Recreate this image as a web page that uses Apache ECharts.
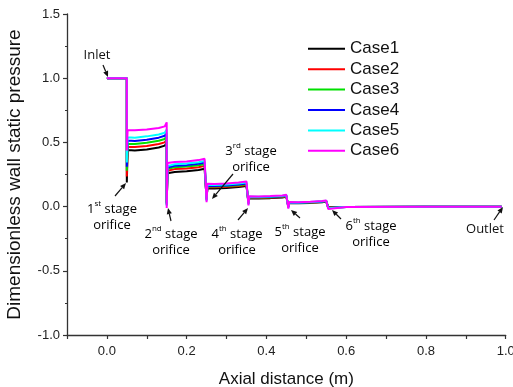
<!DOCTYPE html>
<html>
<head>
<meta charset="utf-8">
<script src="https://cdn.jsdelivr.net/npm/echarts@6/dist/echarts.min.js"></script>
<style>html,body{margin:0;padding:0;background:#fff}#c{width:513px;height:387px}</style>
</head>
<body>
<div id="c"></div>
<script>
// Axial positions (m) shared by all cases (repeated x = vertical drop at an orifice)
const xs = [0, 0.05, 0.05,
  0.052, 0.07, 0.10, 0.13, 0.145, 0.15, 0.15,
  0.152, 0.17, 0.20, 0.23, 0.245, 0.25, 0.25,
  0.252, 0.27, 0.30, 0.33, 0.35, 0.355, 0.355,
  0.357, 0.38, 0.41, 0.44, 0.45, 0.455, 0.455,
  0.457, 0.48, 0.51, 0.54, 0.55, 0.555, 0.555,
  0.557, 0.60, 0.80, 0.99];

const caseNames = ['Case1', 'Case2', 'Case3', 'Case4', 'Case5', 'Case6'];

const case1 = [1.0, 1.0, 0.187,
  0.440, 0.437, 0.445, 0.460, 0.475, 0.495, 0.030,
  0.260, 0.270, 0.275, 0.285, 0.295, 0.310, 0.065,
  0.143, 0.141, 0.145, 0.152, 0.160, 0.170, 0.034,
  0.064, 0.063, 0.066, 0.071, 0.076, 0.084, 0.004,
  0.027, 0.026, 0.029, 0.034, 0.039, 0.045, -0.004,
  -0.003, -0.003, -0.002, -0.001];
const case2 = [1.0, 1.0, 0.234,
  0.467, 0.464, 0.472, 0.488, 0.500, 0.522, 0.024,
  0.280, 0.292, 0.297, 0.307, 0.317, 0.330, 0.060,
  0.152, 0.150, 0.154, 0.161, 0.169, 0.178, 0.030,
  0.068, 0.067, 0.070, 0.075, 0.080, 0.087, 0.001,
  0.029, 0.028, 0.031, 0.036, 0.041, 0.047, -0.006,
  -0.003, -0.003, -0.002, -0.001];
const case3 = [1.0, 1.0, 0.280,
  0.490, 0.487, 0.497, 0.513, 0.527, 0.550, 0.018,
  0.295, 0.307, 0.312, 0.322, 0.332, 0.345, 0.055,
  0.158, 0.156, 0.160, 0.167, 0.175, 0.185, 0.026,
  0.071, 0.070, 0.073, 0.078, 0.083, 0.090, -0.002,
  0.030, 0.029, 0.032, 0.038, 0.043, 0.049, -0.008,
  -0.003, -0.003, -0.002, -0.001];
const case4 = [1.0, 1.0, 0.310,
  0.514, 0.511, 0.520, 0.537, 0.552, 0.575, 0.012,
  0.305, 0.318, 0.323, 0.333, 0.343, 0.355, 0.050,
  0.163, 0.161, 0.165, 0.172, 0.180, 0.190, 0.022,
  0.074, 0.073, 0.076, 0.081, 0.086, 0.093, -0.005,
  0.031, 0.030, 0.033, 0.039, 0.044, 0.051, -0.010,
  -0.003, -0.003, -0.002, -0.001];
const case5 = [1.0, 1.0, 0.343,
  0.540, 0.537, 0.547, 0.562, 0.575, 0.600, 0.005,
  0.315, 0.330, 0.335, 0.345, 0.355, 0.370, 0.045,
  0.170, 0.168, 0.172, 0.180, 0.188, 0.196, 0.018,
  0.077, 0.076, 0.079, 0.084, 0.089, 0.096, -0.008,
  0.033, 0.032, 0.035, 0.041, 0.046, 0.053, -0.012,
  -0.003, -0.003, -0.002, -0.001];
const case6 = [1.0, 1.0, 0.436,
  0.597, 0.594, 0.600, 0.612, 0.625, 0.656, -0.010,
  0.340, 0.347, 0.352, 0.362, 0.372, 0.385, 0.035,
  0.178, 0.176, 0.180, 0.188, 0.196, 0.205, 0.010,
  0.080, 0.079, 0.082, 0.087, 0.092, 0.100, -0.015,
  0.035, 0.034, 0.037, 0.043, 0.048, 0.056, -0.018,
  -0.003, -0.003, -0.002, -0.001];

const caseValues = [case1, case2, case3, case4, case5, case6];
const caseColors = ['#000000', '#ff0000', '#00e000', '#0000ff', '#00ffff', '#ff00ff'];

const xTickLabels = ['0.0', '0.2', '0.4', '0.6', '0.8', '1.0'];
const yTickLabels = ['-1.0', '-0.5', '0.0', '0.5', '1.0', '1.5'];

const chart = echarts.init(document.getElementById('c'), null, {renderer: 'canvas'});

const series = caseNames.map((n, i) => ({
  name: n,
  type: 'line',
  symbol: 'none',
  showSymbol: false,
  smooth: false,
  color: caseColors[i],
  lineStyle: {width: 2, color: caseColors[i]},
  data: xs.map((x, k) => [x, caseValues[i][k]]),
  z: 2 + i
}));

const annFont = '"Open Sans", "Noto Sans", sans-serif';
const rich = {
  a: {fontSize: 13, fontFamily: annFont, color: '#111', lineHeight: 16, verticalAlign: 'bottom'},
  s: {fontSize: 8, fontFamily: annFont, color: '#111', lineHeight: 16, verticalAlign: 'top'}
};
function label(x, y, num, sup) {
  const t = '{a|' + num + '}{s|' + sup + '}{a| stage}\n{a|orifice}';
  return {type: 'text', x: x, y: y, z: 100,
    style: {text: t, rich: rich, align: 'center', verticalAlign: 'middle'}};
}
function arrow(x1, y1, x2, y2) {
  const dx = x2 - x1, dy = y2 - y1, L = Math.sqrt(dx * dx + dy * dy);
  const ux = dx / L, uy = dy / L, h = 6, w = 2.6;
  const bx = x2 - ux * h, by = y2 - uy * h;
  return [
    {type: 'line', z: 100, shape: {x1: x1, y1: y1, x2: bx, y2: by}, style: {stroke: '#111', lineWidth: 1.2}},
    {type: 'polygon', z: 100, shape: {points: [[x2, y2], [bx - uy * w, by + ux * w], [bx + uy * w, by - ux * w]]}, style: {fill: '#111'}}
  ];
}

const graphics = [].concat(
  [{type: 'text', x: 97, y: 55, z: 100, style: {text: 'Inlet', font: '13px ' + annFont, fill: '#111', align: 'center', verticalAlign: 'middle'}}],
  arrow(103, 65, 108, 77),
  [label(112, 216, '1', 'st')],
  arrow(115, 196, 126, 183),
  [label(171, 241, '2', 'nd')],
  arrow(171, 221, 168, 208),
  [label(251, 158, '3', 'rd')],
  arrow(233, 174, 212, 199),
  [label(237, 241, '4', 'th')],
  arrow(238, 220, 248, 208),
  [label(300, 239, '5', 'th')],
  arrow(300, 218, 291, 210),
  [label(371, 233, '6', 'th')],
  arrow(341, 219, 332, 210),
  [{type: 'text', x: 485, y: 229, z: 100, style: {text: 'Outlet', font: '13px ' + annFont, fill: '#111', align: 'center', verticalAlign: 'middle'}}],
  arrow(494, 220, 503, 207)
);

const axisFont = '"Liberation Sans", Arial, sans-serif';
chart.setOption({
  animation: false,
  backgroundColor: '#fff',
  grid: {left: 67, right: 7.3, top: 14, bottom: 52, containLabel: false, outerBoundsMode: 'none'},
  legend: {
    orient: 'vertical', left: 308, top: 40, padding: 0,
    icon: 'rect', itemWidth: 37, itemHeight: 2, itemGap: 2.8,
    textStyle: {fontSize: 17, lineHeight: 17.6, fontFamily: axisFont, color: '#111'},
    data: caseNames
  },
  xAxis: {
    type: 'value', min: -0.1, max: 1.0, interval: 0.1,
    name: 'Axial distance (m)', nameLocation: 'middle', nameGap: 36,
    nameTextStyle: {fontSize: 17, fontFamily: axisFont, color: '#111'},
    axisLine: {show: true, onZero: false, lineStyle: {color: '#333', width: 1.3}},
    axisTick: {show: true, inside: false, length: 4, lineStyle: {color: '#333', width: 1.2}},
    axisLabel: {
      margin: 10, fontSize: 13, fontFamily: axisFont, color: '#222',
      formatter: function (v) {
        const k = Math.round(v * 10);
        if (k < 0 || k % 2 !== 0) return '';
        return xTickLabels[k / 2];
      }
    },
    splitLine: {show: false}
  },
  yAxis: {
    type: 'value', min: -1.0, max: 1.5, interval: 0.5,
    name: 'Dimensionless wall static pressure', nameLocation: 'middle', nameGap: 43,
    nameTextStyle: {fontSize: 19, fontFamily: axisFont, color: '#111'},
    axisLine: {show: true, onZero: false, lineStyle: {color: '#333', width: 1.3}},
    axisTick: {show: true, inside: false, length: 4, lineStyle: {color: '#333', width: 1.2}},
    minorTick: {show: true, splitNumber: 2, length: 2, lineStyle: {color: '#333', width: 1.2}},
    axisLabel: {
      margin: 7, fontSize: 13, fontFamily: axisFont, color: '#222',
      formatter: function (v) {
        const k = Math.round((v + 1) * 2);
        return yTickLabels[k] !== undefined ? yTickLabels[k] : '';
      }
    },
    splitLine: {show: false}
  },
  series: series,
  graphic: graphics
});
</script>
</body>
</html>
